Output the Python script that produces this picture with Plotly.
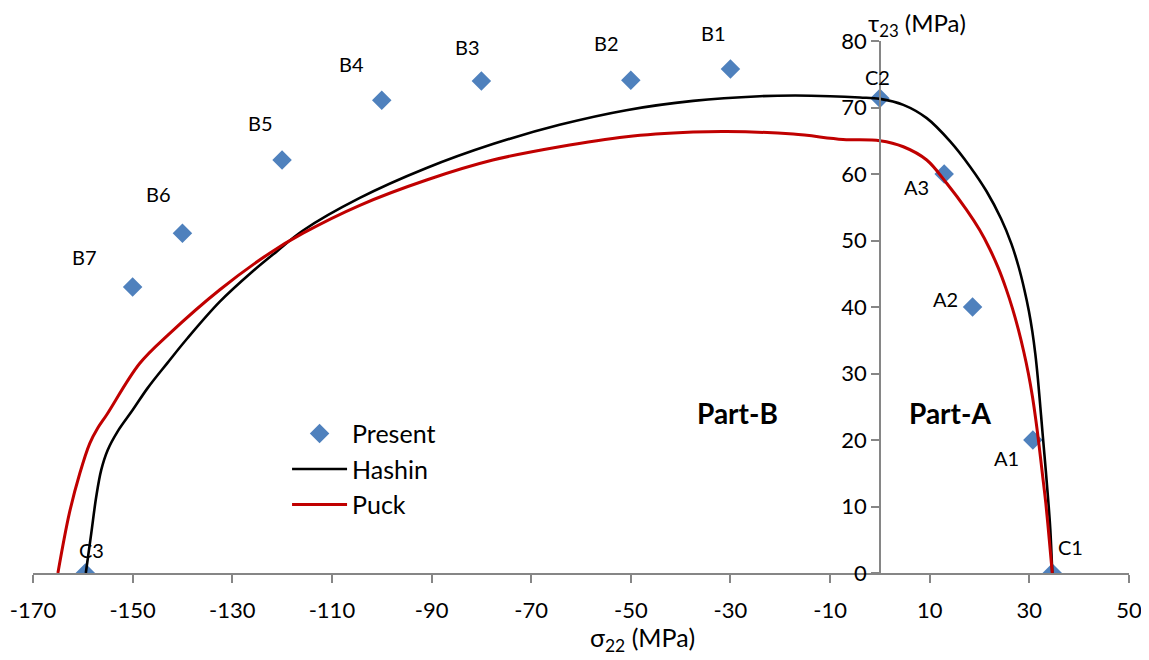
import plotly.graph_objects as go

# ---- data ----
present_labels = ["C3", "B7", "B6", "B5", "B4", "B3", "B2", "B1", "C2", "A3", "A2", "A1", "C1"]
present_sigma = [-159.5, -150, -140, -120, -100, -80, -50, -30, 0, 12.9, 18.6, 30.7, 34.6]
present_tau = [0, 43.0, 51.1, 62.1, 71.1, 74.0, 74.1, 75.8, 71.4, 60.0, 40.0, 20.0, 0]

hashin_sigma = [-159.4, -158.3, -157.3, -156.3, -155.0, -153.0, -150.0, -147.0, -143.0, -139.0,
                -132.5, -126.0, -121.0, -115.8, -104.4, -91.0, -77.7, -64.3, -50.9, -37.5,
                -24.1, -17.0, -10.0, -4.0, 0.0, 4.7, 9.4, 14.1, 18.1, 21.4, 24.3, 26.4,
                27.9, 29.0, 29.9, 30.6, 31.2, 31.7, 32.2, 32.7, 33.3, 33.8, 34.2, 34.6]
hashin_tau = [0, 6.0, 11.5, 15.5, 18.5, 21.3, 24.5, 27.8, 31.6, 35.3,
              40.8, 45.3, 48.4, 51.5, 56.4, 60.9, 64.5, 67.4, 69.6, 71.0,
              71.7, 71.8, 71.7, 71.5, 71.3, 70.4, 68.4, 64.9, 61.1, 57.4, 53.3, 49.5,
              45.9, 42.6, 39.4, 36.3, 32.9, 29.3, 25.0, 20.6, 15.4, 10.8, 6.6, 0]

puck_sigma = [-165.0, -162.7, -160.6, -158.6, -157.0, -155.2, -148.6, -142.6, -132.5, -122.5,
              -115.8, -104.4, -91.0, -77.7, -64.3, -50.9, -37.5, -30.8, -17.4, -7.4,
              0.0, 4.7, 9.4, 13.4, 17.4, 20.0, 22.0, 23.8, 25.3, 26.6, 27.8, 28.9,
              29.8, 30.6, 31.3, 31.9, 32.6, 33.3, 34.0, 34.6]
puck_tau = [0, 9.0, 15.0, 19.5, 21.8, 23.8, 31.5, 36.0, 42.6, 48.1,
            51.1, 55.3, 59.1, 62.1, 64.1, 65.6, 66.3, 66.4, 66.0, 65.2,
            65.0, 64.1, 62.1, 58.6, 54.6, 51.6, 48.8, 45.8, 42.8, 39.8, 36.6, 33.2,
            30.0, 26.6, 23.0, 19.5, 15.0, 10.5, 5.0, 0]

x_range = [-170, 50]
y_range = [0, 80]
x_tickvals = [-170, -150, -130, -110, -90, -70, -50, -30, -10, 10, 30, 50]
x_ticktext = ["-170", "-150", "-130", "-110", "-90", "-70", "-50", "-30", "-10", "10", "30", "50"]
y_tickvals = [0, 10, 20, 30, 40, 50, 60, 70, 80]
y_ticktext = ["0", "10", "20", "30", "40", "50", "60", "70", "80"]

# label pixel offsets (style)
label_shift = {
    "C3": (6, 23), "B7": (-48, 30), "B6": (-24, 39), "B5": (-22, 37), "B4": (-30, 36),
    "B3": (-14, 34), "B2": (-24, 37), "B1": (-17, 36), "C2": (-2, 21), "A3": (-28, -13),
    "A2": (-27, 8), "A1": (-26, -18), "C1": (18, 26),
}

FONT = "Lato, 'Open Sans', sans-serif"
AXIS_GREY = "#868686"

fig = go.Figure()
fig.add_trace(go.Scatter(x=present_sigma, y=present_tau, mode="markers", name="Present",
                         marker=dict(symbol="diamond", size=15, color="#4F81BD")))
fig.add_trace(go.Scatter(x=hashin_sigma, y=hashin_tau, mode="lines", name="Hashin",
                         line=dict(color="#000000", width=2.6, shape="spline", smoothing=1.0)))
fig.add_trace(go.Scatter(x=puck_sigma, y=puck_tau, mode="lines", name="Puck",
                         line=dict(color="#C00000", width=3, shape="spline", smoothing=1.0)))

annotations = []
for lab, sx, ty in zip(present_labels, present_sigma, present_tau):
    dx, dy = label_shift[lab]
    annotations.append(dict(x=sx, y=ty, text=lab, showarrow=False, xshift=dx, yshift=dy,
                            font=dict(size=20, color="#000000", family=FONT)))
annotations += [
    dict(x=-28.5, y=24.1, text="<b>Part-B</b>", showarrow=False,
         font=dict(size=28, color="#000000", family=FONT)),
    dict(x=14.1, y=24.1, text="<b>Part-A</b>", showarrow=False,
         font=dict(size=28, color="#000000", family=FONT)),
    dict(x=0.0, y=80, text="τ<sub>23</sub> (MPa)", showarrow=False, xanchor="left",
         xshift=-14, yshift=17, font=dict(size=24, color="#000000", family=FONT)),
    dict(x=-58.5, y=0, text="σ<sub>22</sub> (MPa)", showarrow=False, xanchor="left",
         yshift=-66, font=dict(size=25, color="#000000", family=FONT)),
]

# the page body adds an 8px offset; figure size and margins compensate for it
fig.update_layout(
    width=1141, height=652,
    margin=dict(l=25, r=20, t=33, b=87, autoexpand=False),
    paper_bgcolor="white", plot_bgcolor="white",
    font=dict(family=FONT, size=22, color="#000000"),
    showlegend=True,
    legend=dict(x=0.2318, y=0.305, xanchor="left", yanchor="top", bgcolor="rgba(0,0,0,0)",
                font=dict(size=25, family=FONT), tracegroupgap=0, itemwidth=55),
    annotations=annotations,
    xaxis=dict(range=x_range, tickvals=x_tickvals, ticktext=x_ticktext, showgrid=False,
               zeroline=False, automargin=False,
               showline=True, linecolor=AXIS_GREY, linewidth=1.5, ticks="outside",
               ticklen=8, tickcolor=AXIS_GREY, tickwidth=1.5, ticklabelstandoff=9,
               tickfont=dict(size=22, family=FONT)),
    yaxis=dict(range=y_range, tickvals=y_tickvals, ticktext=y_ticktext, showgrid=False,
               zeroline=False, anchor="free", automargin=False,
               position=(0 - x_range[0]) / (x_range[1] - x_range[0]),
               showline=True, linecolor=AXIS_GREY, linewidth=1.5, ticks="outside",
               ticklen=8, tickcolor=AXIS_GREY, tickwidth=1.5,
               tickfont=dict(size=22, family=FONT)),
)

fig.write_html("out.html")
